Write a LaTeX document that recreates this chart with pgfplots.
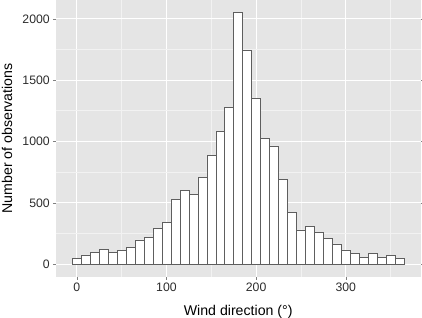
\documentclass[border=0pt]{standalone}
\usepackage{fontspec}
\setmainfont{Liberation Sans}
\usepackage{pgfplots}
\pgfplotsset{compat=1.18}
\definecolor{panelbg}{HTML}{E5E5E5}
\definecolor{minorgrid}{HTML}{F2F2F2}
\definecolor{ticklab}{HTML}{2B2B2B}
\definecolor{tickmark}{HTML}{7F7F7F}
\definecolor{baredge}{HTML}{5E5E5E}
\begin{document}
\begin{tikzpicture}[x=1bp,y=1bp]
\path[use as bounding box] (0,0) rectangle (422,318);
\begin{axis}[
  at={(55.7bp,41.3bp)}, anchor=south west,
  scale only axis, width=365bp, height=276.7bp,
  xmin=-23.5, xmax=383.5, ymin=-102.5, ymax=2153.6,
  axis background/.style={fill=panelbg},
  axis line style={draw=none},
  xtick={0,100,200,300}, ytick={0,500,1000,1500,2000},
  minor xtick={50,150,250,350}, minor ytick={250,750,1250,1750},
  grid=both,
  major grid style={white, line width=1.1bp},
  minor grid style={minorgrid, line width=0.7bp},
  tick align=outside, major tick length=2.8bp, minor tick length=0pt,
  tick style={tickmark, line width=0.5bp},
  ticklabel style={font=\fontsize{12.3}{14}\selectfont, text=ticklab},
  /pgf/number format/assume math mode=true,
  /pgf/number format/1000 sep={},
  xticklabel style={inner sep=2.5bp, yshift=-0.5bp},
  yticklabel style={inner sep=2.5bp, xshift=-0.5bp},
  xlabel={Wind direction (°)}, ylabel={Number of observations},
  label style={font=\fontsize{14.2}{16}\selectfont},
  xlabel style={at={(0.5,0)}, anchor=center, yshift=-35bp},
  ylabel style={at={(-0.1329,0.5)}, anchor=center},
  clip=false,
]
\addplot[ybar, bar width=10, bar shift=0, fill=white, draw=baredge, line width=0.5bp]
coordinates {
(0,49) (10,76) (20,98) (30,122) (40,98) (50,114) (60,139) (70,198) (80,217) (90,293)
(100,342) (110,530) (120,600) (130,571) (140,709) (150,886) (160,1084) (170,1277)
(180,2051) (190,1747) (200,1356) (210,1027) (220,965) (230,693) (240,421) (250,280)
(260,307) (270,258) (280,209) (290,166) (300,117) (310,90) (320,57) (330,87)
(340,57) (350,73) (360,49)
};
\end{axis}
\end{tikzpicture}
\end{document}
